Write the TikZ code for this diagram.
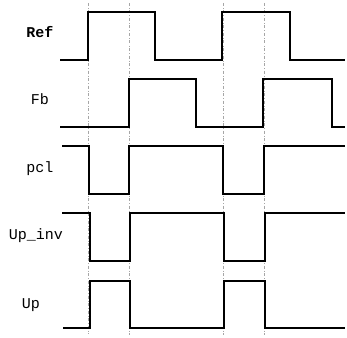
\documentclass[tikz,border=0pt]{standalone}
\usepackage{fontspec}
\newfontfamily\sigfont{Liberation Mono}
\usepackage{tikz}
\tikzstyle{signame} = [font=\sigfont\fontsize{15}{17}\selectfont,
text height=1.5ex,
text depth=.3ex,
inner sep=0pt]
\tikzstyle{wave} = [line width=1.3pt, line join=miter]
\tikzstyle{marker} = [gray!70, line width=0.5pt, dash dot]

\begin{document}
\begin{tikzpicture}[x=1pt, y=-1pt]
        \useasboundingbox (0,0) rectangle (347,337);
        \node (ref) [signame] at (40,35) {\bfseries Ref};
        \node (fb) [signame] at (40,102) {Fb};
        \node (pcl) [signame] at (40,170) {pcl};
        \node (upinv) [signame] at (36,237) {Up\_inv};
        \node (up) [signame] at (31,306) {Up};
        % edge markers
        \draw [marker] (88,3) -- (88,334);
        \draw [marker] (129,3) -- (129,335);
        \draw [marker] (223,3) -- (223,335);
        \draw [marker] (264,3) -- (264,335);
        % waveforms
        \draw [wave] (60,60) -- (88,60) -- (88,12) -- (155,12) -- (155,60) -- (222,60) -- (222,12) -- (290,12) -- (290,60) -- (345,60);
        \draw [wave] (60,127) -- (129,127) -- (129,79) -- (196,79) -- (196,127) -- (263,127) -- (263,79) -- (332,79) -- (332,127) -- (345,127);
        \draw [wave] (62,146) -- (89,146) -- (89,194) -- (129,194) -- (129,146) -- (223,146) -- (223,194) -- (264,194) -- (264,146) -- (345,146);
        \draw [wave] (62,213) -- (90,213) -- (90,261) -- (130,261) -- (130,213) -- (224,213) -- (224,261) -- (265,261) -- (265,213) -- (345,213);
        \draw [wave] (63,328) -- (90,328) -- (90,281) -- (130,281) -- (130,328) -- (224,328) -- (224,281) -- (265,281) -- (265,328) -- (345,328);
    \end{tikzpicture}
\end{document}
